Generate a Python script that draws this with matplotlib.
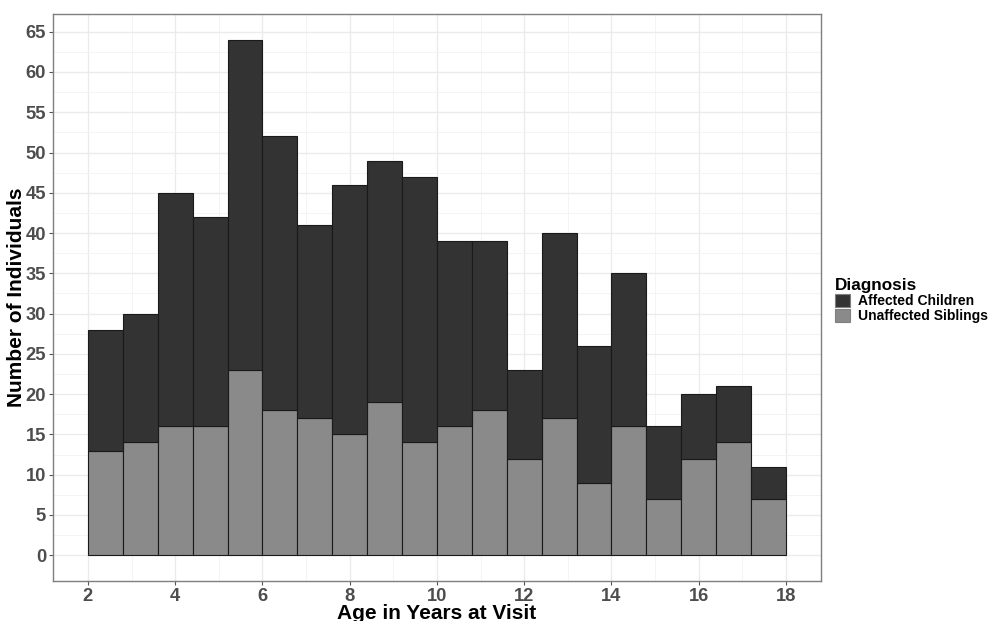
import numpy as np
import matplotlib
matplotlib.use("Agg")
import matplotlib.pyplot as plt
from matplotlib.patches import Patch

plt.rcParams['font.family'] = ['Liberation Sans', 'DejaVu Sans']

# histogram bins (width 0.8 years, from 2 to 18)
bin_edges = np.linspace(2, 18, 21)
total = [28, 30, 45, 42, 64, 52, 41, 46, 49, 47, 39, 39, 23, 40, 26, 35, 16, 20, 21, 11]
unaffected = [13, 14, 16, 16, 23, 18, 17, 15, 19, 14, 16, 18, 12, 17, 9, 16, 7, 12, 14, 7]
affected = [t - u for t, u in zip(total, unaffected)]

labels = ["Affected Children", "Unaffected Siblings"]
colors = ["#333333", "#8a8a8a"]

fig = plt.figure(figsize=(9.95, 6.21), dpi=100)
ax = fig.add_axes([0.0533, 0.0644, 0.7717, 0.9131])

left = bin_edges[:-1]
w = np.diff(bin_edges)
ax.bar(left, unaffected, width=w, align='edge', color=colors[1], edgecolor='#1a1a1a', linewidth=0.8, zorder=3)
ax.bar(left, affected, width=w, bottom=unaffected, align='edge', color=colors[0], edgecolor='#1a1a1a', linewidth=0.8, zorder=3)

ax.set_xlim(1.2, 18.8)
ax.set_ylim(-3.2, 67.2)
ax.set_xticks(np.arange(2, 19, 2))
ax.set_xticks(np.arange(3, 19, 2), minor=True)
ax.set_yticks(np.arange(0, 66, 5))
ax.set_yticks(np.arange(2.5, 66, 5), minor=True)
ax.grid(which='major', color='#ebebeb', linewidth=1.0, zorder=0)
ax.grid(which='minor', color='#f3f3f3', linewidth=0.6, zorder=0)
ax.tick_params(which='minor', length=0)
ax.tick_params(which='major', length=3, width=0.8, pad=2, color='#555555', labelcolor='#4d4d4d', labelsize=13.2)
for lab in ax.get_xticklabels() + ax.get_yticklabels():
    lab.set_fontweight('bold')
for s in ax.spines.values():
    s.set_color('#7f7f7f')
    s.set_linewidth(1.0)

ax.set_xlabel("Age in Years at Visit", fontsize=15, fontweight='bold', labelpad=-1)
ax.set_ylabel("Number of Individuals", fontsize=15, fontweight='bold', labelpad=0)

handles = [Patch(facecolor=c, edgecolor='#7f7f7f', linewidth=0.8) for c in colors]
leg = fig.legend(handles, labels, title="Diagnosis", loc='upper left', bbox_to_anchor=(0.839, 0.552),
                 frameon=False, prop={'weight': 'bold', 'size': 10}, handlelength=1.1, handleheight=1.1,
                 handletextpad=0.6, labelspacing=0.05, borderpad=0, borderaxespad=0)
leg.get_title().set_fontweight('bold')
leg.get_title().set_fontsize(12.3)
leg._legend_box.align = "left"

fig.savefig("out.png", dpi=100)
